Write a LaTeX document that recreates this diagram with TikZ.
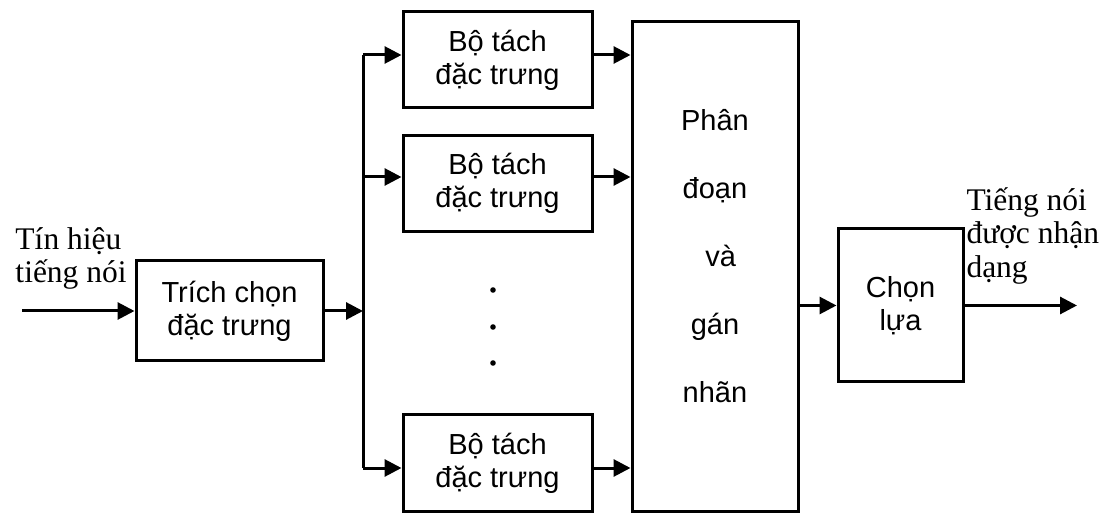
\documentclass[tikz,border=0pt]{standalone}
\usepackage{fontspec}
\setmainfont{Liberation Serif}
\setsansfont{Liberation Sans}
\usetikzlibrary{arrows.meta}

\begin{document}
\begin{tikzpicture}[x=0.5pt, y=-0.5pt, line width=1.5pt, % Raster in Pixeln
  block/.style={draw, align=center, inner sep=0pt, font=\sffamily\fontsize{14.5}{16.5}\selectfont},
  pfeil/.style={-{Triangle[length=8.5pt,width=8.5pt]}},
  marke/.style={align=left, inner sep=0pt, font=\fontsize{15.75}{16.75}\selectfont}]

  \useasboundingbox (0,0) rectangle (1104,513);

  % Eingang: Merkmalsextraktion
  \node[block, minimum width=93.5pt, minimum height=50pt] (tc) at (229.5,311) {Trích chọn\\đặc trưng};
  \coordinate (ein) at (22,311);
  \draw[pfeil] (ein) -- (tc.west);
  \node[marke, anchor=north west] (tin) at (14,226) {Tín hiệu\\tiếng nói};

  % Verteiler (senkrechte Leitung)
  \coordinate (b1) at (363,55);
  \coordinate (b2) at (363,177);
  \coordinate (b3) at (363,468);
  \draw[pfeil] (tc.east) -- (tc.east -| b1);
  \draw (b1) -- (b3);

  % Grosser Block rechts
  \node[block, minimum width=83pt, minimum height=244.5pt] (pd) at (715,266.5) {};
  \node[inner sep=0pt, align=center, font=\sffamily\fontsize{14.5}{34}\selectfont] (pdtext) at (715,256) {Phân\\đoạn\\\hspace{0.4em}và\\gán\\nhãn};

  % Drei Merkmalsdetektoren
  \foreach \n/\y in {1/60,2/183.5,3/463} {
    \node[block, minimum width=94.5pt, minimum height=48pt] (bt\n) at (497.5,\y) {Bộ tách\\đặc trưng};
    \draw[pfeil] (b\n) -- (b\n -| bt\n.west);
    \draw[pfeil] (bt\n.east |- b\n) -- (b\n -| pd.west);
  }

  % Punkte zwischen den Detektoren
  \foreach \y in {290,327,363}
    \fill (493,\y) circle (1.4pt);

  % Ausgang: Auswahl
  \node[block, minimum width=62.5pt, minimum height=76.5pt] (cl) at (900.5,305.5) {Chọn\\lựa};
  \draw[pfeil] (pd.east |- cl.west) -- (cl.west);
  \coordinate (aus) at (1077,305.5);
  \draw[pfeil] (cl.east) -- (aus);
  \node[marke, anchor=north west] (tn) at (965,186) {Tiếng nói\\được nhận\\dạng};
\end{tikzpicture}
\end{document}
